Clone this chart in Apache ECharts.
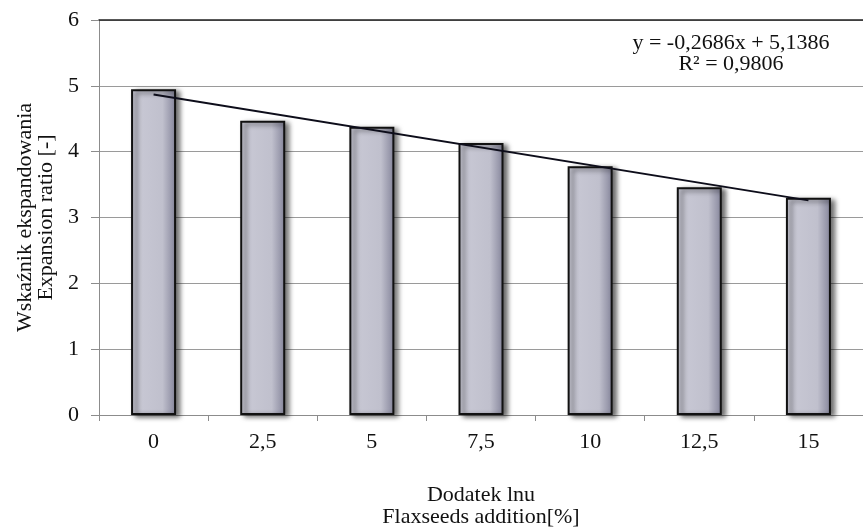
<!DOCTYPE html>
<html><head><meta charset="utf-8">
<script src="https://cdn.jsdelivr.net/npm/echarts@6/dist/echarts.min.js"></script>
<style>html,body{margin:0;padding:0;background:#fff}#c{width:863px;height:532px}</style>
</head><body><div id="c"></div>
<script>
const categories = ['0', '2,5', '5', '7,5', '10', '12,5', '15'];
const expansionRatio = [4.95, 4.47, 4.38, 4.13, 3.78, 3.46, 3.30];
const trendValues = [4.87, null, null, null, null, null, 3.26];
const yTicks = [0, 1, 2, 3, 4, 5, 6];
const equationLines = ['y = -0,2686x + 5,1386', 'R² = 0,9806'];

const font = 'Liberation Serif, Times New Roman, serif';
const chart = echarts.init(document.getElementById('c'));
chart.setOption({
  backgroundColor: '#fff',
  animation: false,
  grid: { left: 99, right: 0, top: 20, bottom: 117, outerBoundsMode: 'none', containLabel: false },
  title: {
    text: equationLines.join('\n'),
    left: 726, top: 28, textAlign: 'center',
    textStyle: { fontFamily: font, fontSize: 22, fontWeight: 'normal', color: '#111', lineHeight: 21, align: 'center' }
  },
  xAxis: [{
    type: 'category', data: categories, position: 'bottom',
    axisLine: { show: true, lineStyle: { color: '#8c8c8c', width: 1 } },
    axisTick: { show: true, alignWithLabel: false, length: 6, lineStyle: { color: '#8c8c8c' } },
    axisLabel: { fontFamily: font, fontSize: 22, color: '#111', margin: 16 },
    name: 'Dodatek lnu\nFlaxseeds addition[%]', nameLocation: 'middle', nameGap: 69,
    nameTextStyle: { fontFamily: font, fontSize: 22, color: '#111', lineHeight: 22, verticalAlign: 'top' }
  }, {
    type: 'category', data: categories, position: 'top',
    axisLine: { show: true, lineStyle: { color: '#222', width: 1.5 } },
    axisTick: { show: false }, axisLabel: { show: false }
  }],
  yAxis: {
    type: 'value', min: 0, max: 6, interval: 1,
    axisLine: { show: true, lineStyle: { color: '#8c8c8c' } },
    axisTick: { show: true, length: 8, lineStyle: { color: '#8c8c8c' } },
    axisLabel: { fontFamily: font, fontSize: 22, color: '#111', margin: 20,
      formatter: v => String(yTicks[yTicks.indexOf(v)]) },
    splitLine: { show: true, lineStyle: { color: '#9a9a9a', width: 1 } },
    name: 'Wskaźnik ekspandowania\nExpansion ratio [-]', nameLocation: 'middle', nameGap: 41,
    nameTextStyle: { fontFamily: font, fontSize: 22, color: '#111', lineHeight: 21 }
  },
  series: [{
    type: 'bar', data: expansionRatio, barWidth: 45, xAxisIndex: 0,
    itemStyle: {
      color: new echarts.graphic.LinearGradient(0, 0, 1, 0, [
        { offset: 0, color: '#cacad6' },
        { offset: 0.7, color: '#c0c0cd' },
        { offset: 1, color: '#84849a' }
      ]),
      borderColor: '#111', borderWidth: 2,
      shadowColor: 'rgba(0,0,0,0.6)', shadowBlur: 5, shadowOffsetX: 4, shadowOffsetY: 2
    },
    z: 2
  }, {
    type: 'line', data: trendValues, connectNulls: true, xAxisIndex: 0,
    symbol: 'none', lineStyle: { color: '#0d0d1a', width: 2 }, z: 5
  }]
});
</script></body></html>
